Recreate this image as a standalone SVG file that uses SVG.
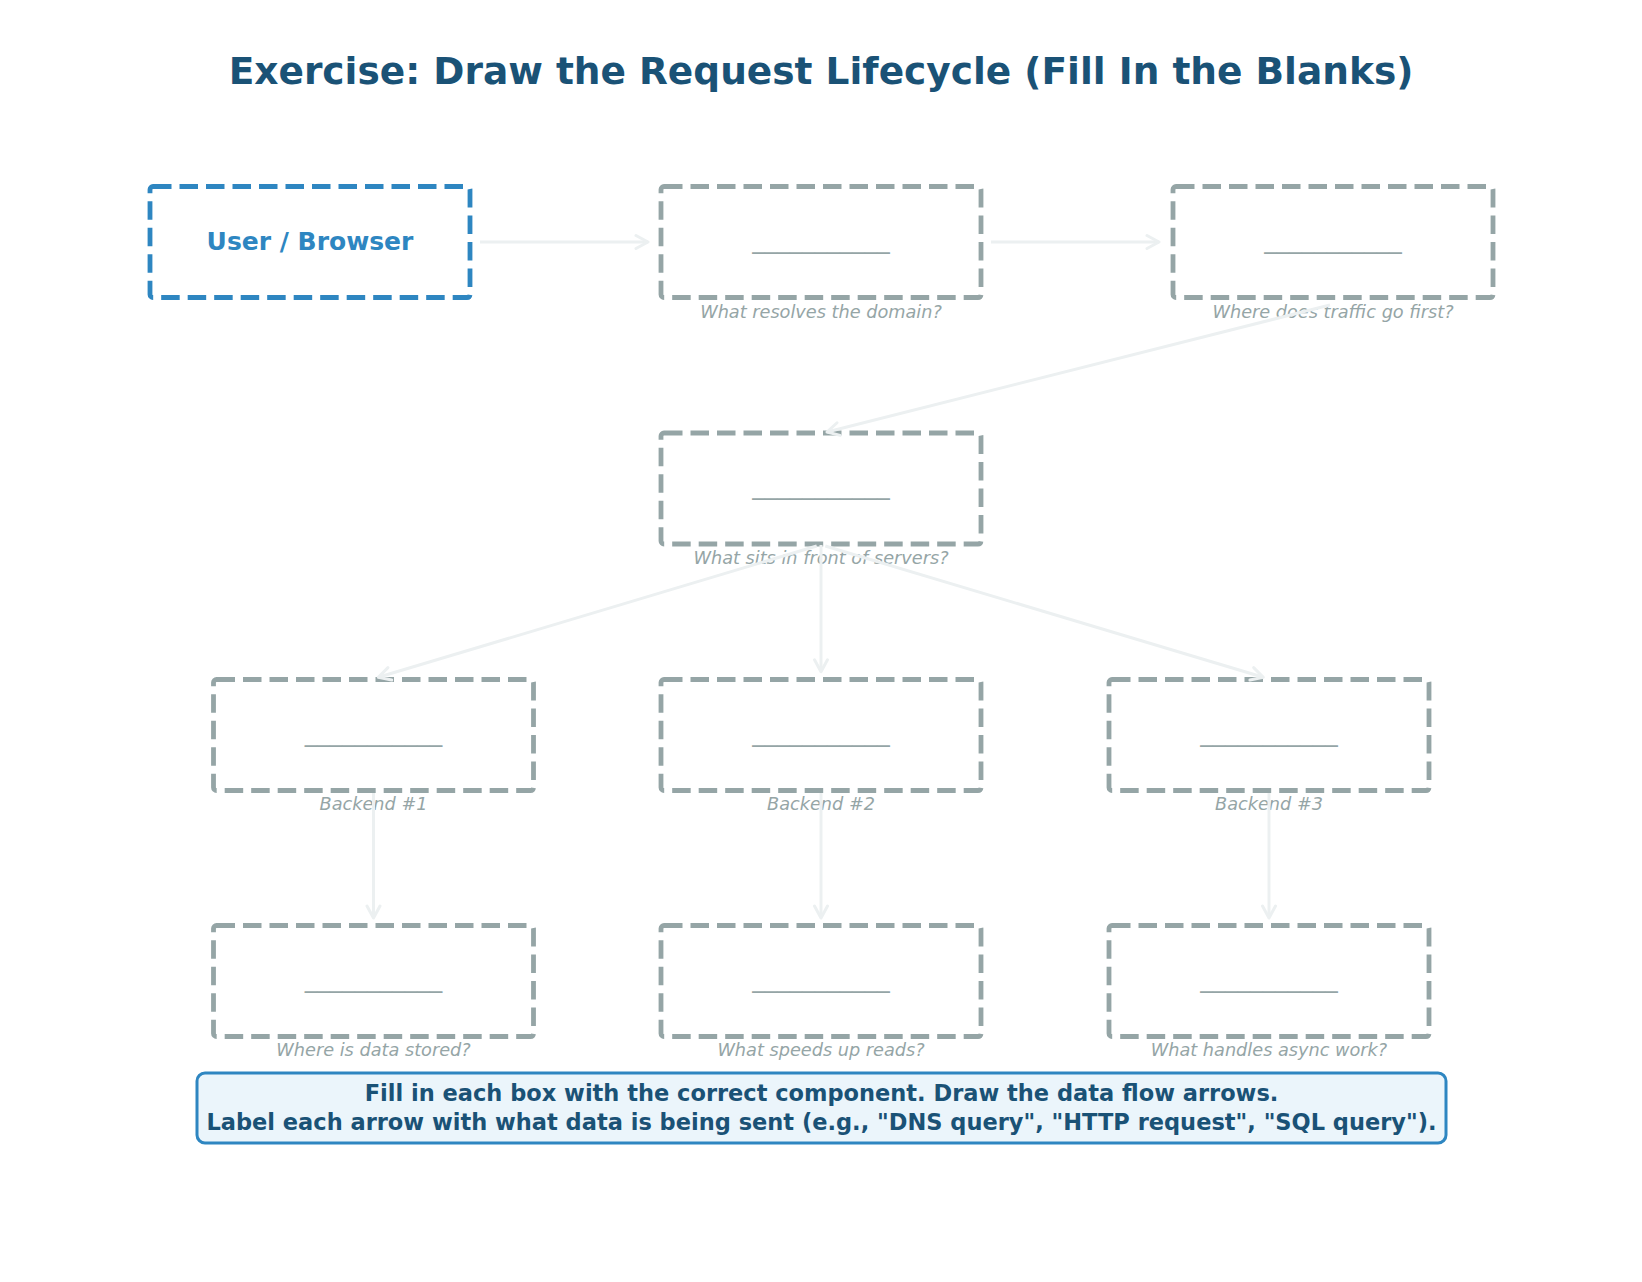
<svg xmlns="http://www.w3.org/2000/svg" width="1642" height="1282" viewBox="0 0 1642 1282">
<style>
  .title{font-family:"DejaVu Sans","Liberation Sans",sans-serif;font-weight:bold;font-size:37.5px;fill:#1a5276;text-anchor:middle}
  .box{fill:#ffffff;stroke:#95a5a6;stroke-width:4.8;stroke-dasharray:18.5 8}
  .ubox{fill:#ffffff;stroke:#2e86c1;stroke-width:4.8;stroke-dasharray:18.5 8}
  .blank{font-family:"DejaVu Sans","Liberation Sans",sans-serif;font-size:25px;fill:#95a5a6;text-anchor:middle}
  .ulabel{font-family:"DejaVu Sans","Liberation Sans",sans-serif;font-weight:bold;font-size:25px;fill:#2e86c1;text-anchor:middle}
  .cap{font-family:"DejaVu Sans","Liberation Sans",sans-serif;font-style:italic;font-size:17.7px;fill:#95a5a6;text-anchor:middle}
  .conn{stroke:#ecf0f1;stroke-width:3;fill:none}
  .note{fill:#ebf5fb;stroke:#2e86c1;stroke-width:3}
  .notetext{font-family:"DejaVu Sans","Liberation Sans",sans-serif;font-weight:bold;font-size:22.5px;fill:#1a5276;text-anchor:middle}
</style>
<defs>
  <marker id="arr" viewBox="-15 -9 17 18" markerWidth="17" markerHeight="18" refX="0" refY="0" orient="auto" markerUnits="userSpaceOnUse">
    <path d="M-12,-6.5 L0,0 L-12,6.5" fill="none" stroke="#ecf0f1" stroke-width="3" stroke-linecap="round" stroke-linejoin="round"/>
  </marker>
</defs>
<rect width="1642" height="1282" fill="#ffffff"/>
<text class="title" x="821" y="84">Exercise: Draw the Request Lifecycle (Fill In the Blanks)</text>

<g id="nodes">
  <g id="user">
    <rect class="ubox" x="150" y="186.5" width="320" height="111" rx="3"/>
    <text class="ulabel" x="310" y="250">User / Browser</text>
  </g>
  <g id="dns">
    <rect class="box" x="661" y="186.5" width="320" height="111" rx="3"/>
    <text class="blank" x="821" y="247.5">___________</text>
    <text class="cap" x="821" y="317.5">What resolves the domain?</text>
  </g>
  <g id="cdn">
    <rect class="box" x="1173" y="186.5" width="320" height="111" rx="3"/>
    <text class="blank" x="1333" y="247.5">___________</text>
    <text class="cap" x="1333" y="317.5">Where does traffic go first?</text>
  </g>
  <g id="lb">
    <rect class="box" x="661" y="433" width="320" height="111" rx="3"/>
    <text class="blank" x="821" y="494">___________</text>
    <text class="cap" x="821" y="563.5">What sits in front of servers?</text>
  </g>
  <g id="backend1">
    <rect class="box" x="213.5" y="679.5" width="320" height="111" rx="3"/>
    <text class="blank" x="373.5" y="740.5">___________</text>
    <text class="cap" x="373.5" y="809.5">Backend #1</text>
  </g>
  <g id="backend2">
    <rect class="box" x="661" y="679.5" width="320" height="111" rx="3"/>
    <text class="blank" x="821" y="740.5">___________</text>
    <text class="cap" x="821" y="809.5">Backend #2</text>
  </g>
  <g id="backend3">
    <rect class="box" x="1109" y="679.5" width="320" height="111" rx="3"/>
    <text class="blank" x="1269" y="740.5">___________</text>
    <text class="cap" x="1269" y="809.5">Backend #3</text>
  </g>
  <g id="db">
    <rect class="box" x="213.5" y="925.5" width="320" height="111" rx="3"/>
    <text class="blank" x="373.5" y="986.5">___________</text>
    <text class="cap" x="373.5" y="1056">Where is data stored?</text>
  </g>
  <g id="cache">
    <rect class="box" x="661" y="925.5" width="320" height="111" rx="3"/>
    <text class="blank" x="821" y="986.5">___________</text>
    <text class="cap" x="821" y="1056">What speeds up reads?</text>
  </g>
  <g id="queue">
    <rect class="box" x="1109" y="925.5" width="320" height="111" rx="3"/>
    <text class="blank" x="1269" y="986.5">___________</text>
    <text class="cap" x="1269" y="1056">What handles async work?</text>
  </g>
</g>

<g id="connectors">
  <line class="conn" x1="480" y1="242" x2="648" y2="242" marker-end="url(#arr)"/>
  <line class="conn" x1="991" y1="242" x2="1159" y2="242" marker-end="url(#arr)"/>
  <line class="conn" x1="1330" y1="305" x2="827" y2="432" marker-end="url(#arr)"/>
  <line class="conn" x1="816.7" y1="546" x2="378.3" y2="677.3" marker-end="url(#arr)"/>
  <line class="conn" x1="821" y1="545" x2="821" y2="671.7" marker-end="url(#arr)"/>
  <line class="conn" x1="825.3" y1="546" x2="1263.3" y2="677.3" marker-end="url(#arr)"/>
  <line class="conn" x1="373.5" y1="793" x2="373.5" y2="918" marker-end="url(#arr)"/>
  <line class="conn" x1="821" y1="793" x2="821" y2="918" marker-end="url(#arr)"/>
  <line class="conn" x1="1269" y1="793" x2="1269" y2="918" marker-end="url(#arr)"/>
</g>

<g id="instructions">
  <rect class="note" x="197" y="1073" width="1249" height="70" rx="8"/>
  <text class="notetext" x="821.5" y="1101">Fill in each box with the correct component. Draw the data flow arrows.</text>
  <text class="notetext" x="821.5" y="1130">Label each arrow with what data is being sent (e.g., "DNS query", "HTTP request", "SQL query").</text>
</g>
</svg>
